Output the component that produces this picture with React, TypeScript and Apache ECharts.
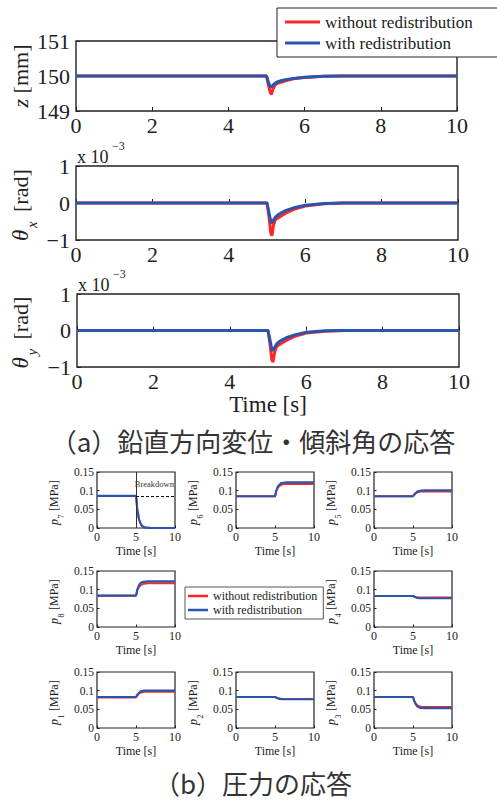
import React, { useEffect, useRef } from 'react';
import * as echarts from 'echarts';

const NAME_WO = 'without redistribution';
const NAME_W = 'with redistribution';
const RED = '#ff2626';
const BLUE = '#2a55ad';
const INK = '#222222';
const SERIF = 'Times New Roman, Liberation Serif, serif';
const CJK = 'Noto Sans CJK JP, sans-serif';

// ---- data: top plots (time in s) ----
const topTime = [0, 5.0, 5.05, 5.1, 5.13, 5.17, 5.22, 5.3, 5.4, 5.5, 5.7, 6.0, 6.5, 7.0, 10];
const zWithout = [150, 150, 149.75, 149.52, 149.48, 149.62, 149.74, 149.8, 149.83, 149.86, 149.92, 149.96, 149.99, 150, 150];
const zWith = [150, 150, 149.82, 149.7, 149.68, 149.74, 149.79, 149.84, 149.87, 149.89, 149.93, 149.965, 149.99, 150, 150];
const thxWithout = [0, 0, -0.35, -0.82, -0.88, -0.6, -0.45, -0.4, -0.33, -0.27, -0.17, -0.08, -0.02, 0, 0];
const thxWith = [0, 0, -0.25, -0.5, -0.54, -0.46, -0.38, -0.31, -0.25, -0.2, -0.13, -0.06, -0.015, 0, 0];
const thyWithout = [0, 0, -0.35, -0.8, -0.87, -0.62, -0.45, -0.38, -0.32, -0.26, -0.16, -0.07, -0.02, 0, 0];
const thyWith = [0, 0, -0.25, -0.52, -0.55, -0.47, -0.38, -0.3, -0.24, -0.19, -0.12, -0.05, -0.01, 0, 0];

// ---- data: pressure plots (MPa) ----
const pTime = [0, 5, 5.2, 5.4, 5.6, 5.8, 6.0, 6.5, 7, 10];
const p7Without = [0.086, 0.086, 0.045, 0.022, 0.011, 0.005, 0.002, 0.0005, 0, 0];
const p7With = [0.086, 0.086, 0.045, 0.022, 0.011, 0.005, 0.002, 0.0005, 0, 0];
const p6Without = [0.085, 0.085, 0.1, 0.109, 0.113, 0.116, 0.117, 0.118, 0.118, 0.118];
const p6With = [0.085, 0.085, 0.103, 0.112, 0.117, 0.12, 0.121, 0.122, 0.122, 0.122];
const p5Without = [0.085, 0.085, 0.09, 0.094, 0.096, 0.097, 0.098, 0.098, 0.098, 0.098];
const p5With = [0.085, 0.085, 0.091, 0.095, 0.098, 0.099, 0.1, 0.101, 0.101, 0.101];
const p8Without = [0.084, 0.084, 0.1, 0.108, 0.112, 0.114, 0.116, 0.117, 0.117, 0.117];
const p8With = [0.084, 0.084, 0.103, 0.113, 0.118, 0.12, 0.121, 0.122, 0.122, 0.122];
const p4Without = [0.083, 0.083, 0.082, 0.08, 0.079, 0.079, 0.079, 0.079, 0.079, 0.079];
const p4With = [0.083, 0.083, 0.081, 0.079, 0.078, 0.077, 0.077, 0.077, 0.077, 0.077];
const p1Without = [0.082, 0.082, 0.088, 0.093, 0.095, 0.096, 0.097, 0.097, 0.097, 0.097];
const p1With = [0.083, 0.083, 0.09, 0.095, 0.098, 0.099, 0.1, 0.1, 0.1, 0.1];
const p2Without = [0.083, 0.083, 0.082, 0.08, 0.079, 0.078, 0.078, 0.078, 0.078, 0.078];
const p2With = [0.083, 0.083, 0.081, 0.079, 0.078, 0.077, 0.077, 0.077, 0.077, 0.077];
const p3Without = [0.083, 0.083, 0.071, 0.064, 0.06, 0.058, 0.057, 0.056, 0.056, 0.056];
const p3With = [0.083, 0.083, 0.07, 0.062, 0.057, 0.055, 0.054, 0.053, 0.053, 0.053];
const breakdownTime = 5;
const breakdownLevel = 0.085;

const pair = (t: number[], v: number[]) => t.map((x, i) => [x, v[i]]);
const fmtSigned = (v: number) => (v < 0 ? '\u2212' + Math.abs(v) : String(v));
const fmtP = (v: number) => String(Number(v.toFixed(2)));

export default function App() {
  const ref = useRef<HTMLDivElement>(null);
  useEffect(() => {
    document.body.style.margin = '0';
    if (!ref.current) return;
    const chart = echarts.init(ref.current, undefined, { renderer: 'svg' });

    const grids: any[] = [];
    const xAxes: any[] = [];
    const yAxes: any[] = [];
    const series: any[] = [];
    const graphics: any[] = [];

    const big = [
      { left: 76, top: 41, width: 381, height: 70, min: 149, max: 151, red: zWithout, blue: zWith, time: false },
      { left: 76, top: 166, width: 382, height: 74, min: -1, max: 1, red: thxWithout, blue: thxWith, time: false },
      { left: 77, top: 294, width: 382, height: 73, min: -1, max: 1, red: thyWithout, blue: thyWith, time: true },
    ];
    big.forEach((b, i) => {
      const gi = grids.length;
      grids.push({ left: b.left, top: b.top, width: b.width, height: b.height, show: true, borderColor: INK, borderWidth: 1.4, backgroundColor: 'transparent' });
      xAxes.push({
        type: 'value', gridIndex: gi, min: 0, max: 10, interval: 2,
        axisLine: { show: false }, splitLine: { show: false },
        axisTick: { inside: true, length: 4, lineStyle: { color: INK } },
        axisLabel: { margin: 3, fontFamily: SERIF, fontSize: 22, color: INK },
        name: b.time ? 'Time [s]' : '', nameLocation: 'middle', nameGap: 25,
        nameTextStyle: { fontFamily: SERIF, fontSize: 23, color: INK },
      });
      yAxes.push({
        type: 'value', gridIndex: gi, min: b.min, max: b.max, interval: 1,
        axisLine: { show: false }, splitLine: { show: false },
        axisTick: { inside: true, length: 4, lineStyle: { color: INK } },
        axisLabel: { margin: 6, fontFamily: SERIF, fontSize: 22, color: INK, formatter: fmtSigned },
      });
      series.push({ type: 'line', name: NAME_WO, xAxisIndex: gi, yAxisIndex: gi, data: pair(topTime, b.red), symbol: 'none', lineStyle: { color: RED, width: 3 }, itemStyle: { color: RED } });
      series.push({ type: 'line', name: NAME_W, xAxisIndex: gi, yAxisIndex: gi, data: pair(topTime, b.blue), symbol: 'none', lineStyle: { color: BLUE, width: 3 }, itemStyle: { color: BLUE } });
      const cy = b.top + b.height / 2;
      if (i === 0) {
        graphics.push({
          type: 'text', x: 20, y: cy, rotation: Math.PI / 2,
          style: { text: '{i|z} [mm]', rich: { i: { fontStyle: 'italic', fontFamily: SERIF, fontSize: 22, fill: INK } }, fontFamily: SERIF, fontSize: 22, fill: INK, align: 'center', verticalAlign: 'middle' },
        });
      } else {
        const sub = i === 1 ? 'x' : 'y';
        graphics.push({
          type: 'group', x: 20, y: cy, rotation: Math.PI / 2,
          children: [
            { type: 'text', x: -38, y: 0, style: { text: '\u03b8', fontStyle: 'italic', fontFamily: SERIF, fontSize: 23, fill: INK, align: 'left', verticalAlign: 'middle' } },
            { type: 'text', x: -25, y: 12, style: { text: sub, fontStyle: 'italic', fontFamily: SERIF, fontSize: 15, fill: INK, align: 'left', verticalAlign: 'middle' } },
            { type: 'text', x: -9, y: 0, style: { text: '[rad]', fontFamily: SERIF, fontSize: 22, fill: INK, align: 'left', verticalAlign: 'middle' } },
          ],
        });
        graphics.push({ type: 'text', x: b.left + 1, y: b.top - 9, style: { text: 'x 10', fontFamily: SERIF, fontSize: 18, fill: INK, align: 'left', verticalAlign: 'middle' } });
        graphics.push({ type: 'text', x: b.left + 36, y: b.top - 20, style: { text: '\u22123', fontFamily: SERIF, fontSize: 12, fill: INK, align: 'left', verticalAlign: 'middle' } });
      }
    });

    const cols = [97, 236, 374];
    const rows = [472, 571, 672];
    const sw = 78;
    const sh = 56;
    const small = [
      { k: '7', c: 0, r: 0, red: p7Without, blue: p7With },
      { k: '6', c: 1, r: 0, red: p6Without, blue: p6With },
      { k: '5', c: 2, r: 0, red: p5Without, blue: p5With },
      { k: '8', c: 0, r: 1, red: p8Without, blue: p8With },
      { k: '4', c: 2, r: 1, red: p4Without, blue: p4With },
      { k: '1', c: 0, r: 2, red: p1Without, blue: p1With },
      { k: '2', c: 1, r: 2, red: p2Without, blue: p2With },
      { k: '3', c: 2, r: 2, red: p3Without, blue: p3With },
    ];
    small.forEach((s) => {
      const gi = grids.length;
      const left = cols[s.c];
      const top = rows[s.r];
      grids.push({ left, top, width: sw, height: sh, show: true, borderColor: INK, borderWidth: 1.2, backgroundColor: 'transparent' });
      xAxes.push({
        type: 'value', gridIndex: gi, min: 0, max: 10, interval: 5,
        axisLine: { show: false }, splitLine: { show: false },
        axisTick: { inside: true, length: 2.5, lineStyle: { color: INK } },
        axisLabel: { margin: 3, fontFamily: SERIF, fontSize: 12, color: INK },
        name: 'Time [s]', nameLocation: 'middle', nameGap: 17,
        nameTextStyle: { fontFamily: SERIF, fontSize: 12, color: INK },
      });
      yAxes.push({
        type: 'value', gridIndex: gi, min: 0, max: 0.15, interval: 0.05,
        axisLine: { show: false }, splitLine: { show: false },
        axisTick: { inside: true, length: 2.5, lineStyle: { color: INK } },
        axisLabel: { margin: 3, fontFamily: SERIF, fontSize: 11.5, color: INK, formatter: fmtP },
      });
      series.push({ type: 'line', name: NAME_WO, xAxisIndex: gi, yAxisIndex: gi, data: pair(pTime, s.red), symbol: 'none', smooth: 0.35, smoothMonotone: 'x', lineStyle: { color: RED, width: 2 }, itemStyle: { color: RED } });
      const blue: any = { type: 'line', name: NAME_W, xAxisIndex: gi, yAxisIndex: gi, data: pair(pTime, s.blue), symbol: 'none', smooth: 0.35, smoothMonotone: 'x', lineStyle: { color: BLUE, width: 2.2 }, itemStyle: { color: BLUE } };
      if (s.k === '7') {
        blue.markLine = {
          silent: true, symbol: 'none', animation: false, label: { show: false },
          data: [
            { xAxis: breakdownTime, lineStyle: { type: 'solid', color: '#333', width: 1 } },
            [
              { coord: [breakdownTime, breakdownLevel], lineStyle: { type: [3, 2], color: '#111', width: 1 } },
              { coord: [10, breakdownLevel] },
            ],
          ],
        };
        graphics.push({ type: 'text', x: left + sw - 1, y: top + 12, style: { text: 'Breakdown', fontFamily: SERIF, fontSize: 8.5, fill: '#333', align: 'right', verticalAlign: 'middle' } });
      }
      series.push(blue);
      graphics.push({
        type: 'group', x: left - 43, y: top + sh / 2, rotation: Math.PI / 2,
        children: [
          { type: 'text', x: -25, y: 0, style: { text: 'p', fontStyle: 'italic', fontFamily: SERIF, fontSize: 12, fill: INK, align: 'left', verticalAlign: 'middle' } },
          { type: 'text', x: -18.5, y: 7, style: { text: s.k, fontFamily: SERIF, fontSize: 8, fill: INK, align: 'left', verticalAlign: 'middle' } },
          { type: 'text', x: -11, y: 0, style: { text: '[MPa]', fontFamily: SERIF, fontSize: 12, fill: INK, align: 'left', verticalAlign: 'middle' } },
        ],
      });
    });

    graphics.push({ type: 'text', x: 253, y: 440, style: { text: '\uff08a\uff09鉛直方向変位・傾斜角の応答', fontFamily: CJK, fontSize: 26, fill: '#333', align: 'center', verticalAlign: 'middle' } });
    graphics.push({ type: 'text', x: 253, y: 782, style: { text: '\uff08b\uff09圧力の応答', fontFamily: CJK, fontSize: 26, fill: '#333', align: 'center', verticalAlign: 'middle' } });

    chart.setOption({
      animation: false,
      backgroundColor: '#ffffff',
      textStyle: { fontFamily: SERIF },
      grid: grids,
      xAxis: xAxes,
      yAxis: yAxes,
      series,
      legend: [
        {
          data: [NAME_WO, NAME_W], selectedMode: false, orient: 'vertical', left: 277, top: 8,
          icon: 'rect', backgroundColor: '#ffffff', borderColor: INK, borderWidth: 1, borderRadius: 0,
          padding: [5, 40, 5, 8], itemWidth: 35, itemHeight: 3, itemGap: 3,
          textStyle: { fontFamily: SERIF, fontSize: 17, lineHeight: 18, color: INK },
        },
        {
          data: [NAME_WO, NAME_W], selectedMode: false, orient: 'vertical', left: 185, top: 587,
          icon: 'rect', backgroundColor: '#ffffff', borderColor: '#555', borderWidth: 1, borderRadius: 0,
          padding: [3, 6, 3, 3], itemWidth: 20, itemHeight: 2.5, itemGap: 2,
          textStyle: { fontFamily: SERIF, fontSize: 12, lineHeight: 11, color: INK },
        },
      ],
      graphic: graphics,
    });
    return () => chart.dispose();
  }, []);
  return <div ref={ref} style={{ width: 497, height: 800 }} />;
}
